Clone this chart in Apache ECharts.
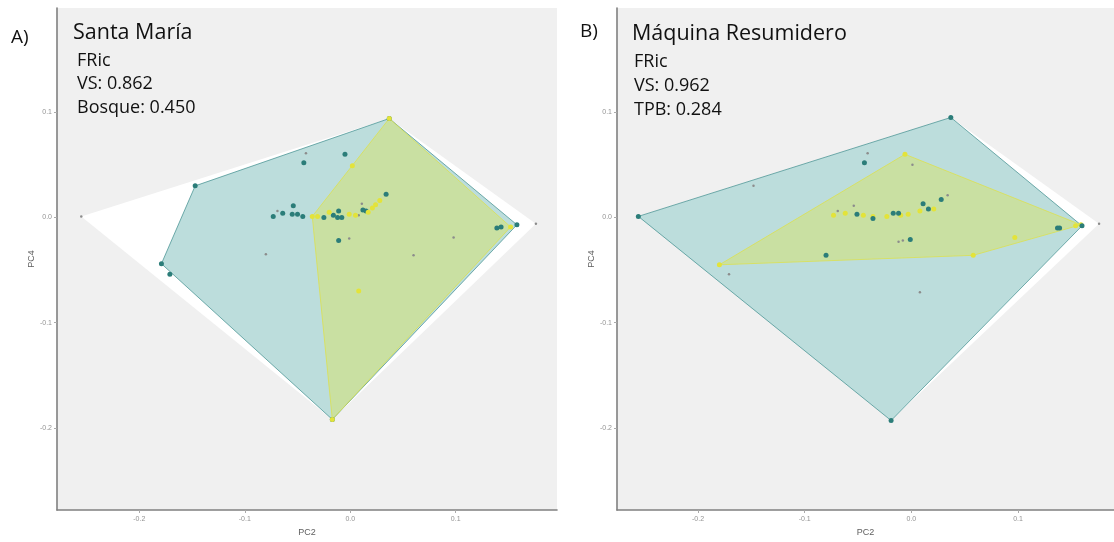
<!DOCTYPE html>
<html>
<head>
<meta charset="utf-8">
<script src="https://cdn.jsdelivr.net/npm/echarts@6/dist/echarts.min.js"></script>
<style>
html,body{margin:0;padding:0;background:#ffffff;}
#chart{width:1114px;height:542px;}
</style>
</head>
<body>
<div id="chart"></div>
<script>
// ---------- DATA ----------
const tickValues = [-0.2, -0.1, 0.0, 0.1];
const tickLabels = ['-0.2', '-0.1', '0.0', '0.1'];

// Panel A: Santa María
const aHullAll = [[-0.255, 0.001], [0.037, 0.094], [0.176, -0.006], [-0.017, -0.192]];
const aHullVS = [[-0.147, 0.030], [0.037, 0.094], [0.158, -0.007], [-0.017, -0.192], [-0.179, -0.044]];
const aHullBosque = [[-0.036, 0.001], [0.037, 0.094], [0.152, -0.009], [-0.017, -0.192]];
const aPointsVS = [
  [-0.147, 0.030], [-0.044, 0.052], [-0.005, 0.060], [-0.054, 0.011], [-0.073, 0.001],
  [-0.064, 0.004], [-0.055, 0.003], [-0.050, 0.003], [-0.045, 0.001], [-0.025, 0.000],
  [-0.016, 0.002], [-0.011, 0.006], [-0.012, 0.000], [-0.008, 0.000], [0.012, 0.007],
  [0.015, 0.006], [0.034, 0.022], [-0.011, -0.022], [-0.179, -0.044], [-0.171, -0.054],
  [0.139, -0.010], [0.143, -0.009], [0.158, -0.007], [-0.017, -0.192], [0.037, 0.094]
];
const aPointsBosque = [
  [0.037, 0.094], [0.002, 0.049], [0.028, 0.016], [0.024, 0.012], [0.021, 0.009],
  [-0.036, 0.001], [-0.031, 0.001], [-0.020, 0.005], [-0.001, 0.003], [0.005, 0.002],
  [0.008, -0.070], [0.152, -0.009], [-0.017, -0.192], [0.017, 0.005]
];
const aPointsOther = [
  [-0.255, 0.001], [-0.042, 0.061], [-0.069, 0.006], [-0.080, -0.035], [0.011, 0.013],
  [0.008, 0.002], [-0.001, -0.020], [0.098, -0.019], [0.060, -0.036], [0.176, -0.006]
];

// Panel B: Máquina Resumidero
const bHullAll = [[-0.256, 0.001], [0.037, 0.095], [0.176, -0.006], [-0.019, -0.193]];
const bHullVS = [[-0.256, 0.001], [0.037, 0.095], [0.160, -0.008], [-0.019, -0.193]];
const bHullTPB = [[-0.180, -0.045], [-0.006, 0.060], [0.159, -0.007], [0.058, -0.036]];
const bPointsVS = [
  [-0.256, 0.001], [0.037, 0.095], [-0.044, 0.052], [0.011, 0.013], [0.028, 0.017],
  [0.016, 0.008], [-0.051, 0.003], [-0.036, -0.001], [-0.017, 0.004], [-0.012, 0.004],
  [-0.001, -0.021], [-0.080, -0.036], [0.137, -0.010], [0.139, -0.010], [0.160, -0.008],
  [-0.019, -0.193]
];
const bPointsTPB = [
  [-0.180, -0.045], [-0.006, 0.060], [-0.073, 0.002], [-0.062, 0.004], [-0.045, 0.002],
  [-0.036, 0.001], [-0.023, 0.001], [-0.010, 0.002], [-0.003, 0.003], [0.008, 0.006],
  [0.021, 0.008], [0.097, -0.019], [0.058, -0.036], [0.154, -0.008], [0.159, -0.007]
];
const bPointsOther = [
  [-0.148, 0.030], [-0.171, -0.054], [-0.069, 0.006], [-0.041, 0.061], [0.001, 0.050],
  [0.034, 0.021], [-0.054, 0.011], [-0.012, -0.023], [-0.008, -0.022], [0.008, -0.071],
  [0.176, -0.006]
];

// ---------- STYLE ----------
const FONT = '"Open Sans", "Liberation Sans", sans-serif';
const axisLineColor = '#808080';
const tickLabelStyle = { fontSize: 7, color: '#939393', fontFamily: 'Liberation Sans' };

function xAxisCfg(gi, min, max) {
  return {
    type: 'value', gridIndex: gi, min: min, max: max,
    name: 'PC2', nameLocation: 'middle', nameGap: 18,
    nameTextStyle: { fontSize: 9, color: '#606060', fontFamily: 'Liberation Sans' },
    axisLine: { show: true, onZero: false, lineStyle: { color: axisLineColor, width: 1.6 } },
    axisTick: { show: true, length: 3, customValues: tickValues, lineStyle: { color: '#aaaaaa' } },
    axisLabel: Object.assign({ customValues: tickValues, margin: 6,
      formatter: v => tickLabels[tickValues.findIndex(t => Math.abs(t - v) < 1e-9)] }, tickLabelStyle),
    splitLine: { show: false }
  };
}
function yAxisCfg(gi, min, max) {
  return {
    type: 'value', gridIndex: gi, min: min, max: max,
    name: 'PC4', nameLocation: 'middle', nameGap: 17, nameRotate: 90,
    nameTextStyle: { fontSize: 9, color: '#606060', fontFamily: 'Liberation Sans' },
    axisLine: { show: true, onZero: false, lineStyle: { color: axisLineColor, width: 1.6 } },
    axisTick: { show: true, length: 3, customValues: tickValues, lineStyle: { color: '#aaaaaa' } },
    axisLabel: Object.assign({ customValues: tickValues, margin: 5,
      formatter: v => tickLabels[tickValues.findIndex(t => Math.abs(t - v) < 1e-9)] }, tickLabelStyle),
    splitLine: { show: false }
  };
}

function hullSeries(gi, hull, fill, stroke, z) {
  return {
    type: 'custom', xAxisIndex: gi, yAxisIndex: gi, z: z, silent: true,
    data: hull,
    renderItem: function (params, api) {
      if (params.dataIndex !== 0) return null;
      const pts = hull.map(p => api.coord(p));
      return {
        type: 'polygon',
        shape: { points: pts },
        style: { fill: fill, stroke: stroke, lineWidth: stroke ? 1 : 0 }
      };
    }
  };
}
function pointSeries(gi, data, color, size, z) {
  return {
    type: 'scatter', xAxisIndex: gi, yAxisIndex: gi, z: z, silent: true,
    data: data, symbolSize: size,
    itemStyle: { color: color, opacity: 1 }
  };
}

const chart = echarts.init(document.getElementById('chart'), null, { renderer: 'canvas' });

const textLines = (x, lines) => lines.map(l => ({
  type: 'text', left: x, top: l.y,
  style: { text: l.t, font: l.s + 'px ' + FONT, fill: '#111111' }
}));

chart.setOption({
  backgroundColor: '#ffffff',
  animation: false,
  grid: [
    { left: 57, top: 8, width: 500, height: 506, show: true, backgroundColor: '#f0f0f0', borderWidth: 0 },
    { left: 617, top: 8, width: 497, height: 506, show: true, backgroundColor: '#f0f0f0', borderWidth: 0 }
  ],
  xAxis: [xAxisCfg(0, -0.278, 0.196), xAxisCfg(1, -0.276, 0.19)],
  yAxis: [yAxisCfg(0, -0.278, 0.199), yAxisCfg(1, -0.278, 0.199)],
  series: [
    hullSeries(0, aHullAll, '#ffffff', null, 1),
    hullSeries(0, aHullVS, 'rgba(33,144,140,0.30)', 'rgba(60,140,140,0.7)', 2),
    hullSeries(0, aHullBosque, 'rgba(230,230,40,0.32)', 'rgba(220,225,80,0.8)', 3),
    pointSeries(0, aPointsOther, '#8c8c8c', 2.5, 4),
    pointSeries(0, aPointsVS, '#2b7d79', 5, 5),
    pointSeries(0, aPointsBosque, '#e3e33a', 5, 6),

    hullSeries(1, bHullAll, '#ffffff', null, 1),
    hullSeries(1, bHullVS, 'rgba(33,144,140,0.30)', 'rgba(60,140,140,0.7)', 2),
    hullSeries(1, bHullTPB, 'rgba(230,230,40,0.32)', 'rgba(220,225,80,0.8)', 3),
    pointSeries(1, bPointsOther, '#8c8c8c', 2.5, 4),
    pointSeries(1, bPointsTPB, '#e3e33a', 5, 5),
    pointSeries(1, bPointsVS, '#2b7d79', 5, 6)
  ],
  graphic: [].concat(
    textLines(11, [{ t: 'A)', s: 19, y: 28 }]),
    textLines(73, [{ t: 'Santa María', s: 21.5, y: 22 }]),
    textLines(77, [
      { t: 'FRic', s: 18, y: 52 },
      { t: 'VS: 0.862', s: 18, y: 75 },
      { t: 'Bosque: 0.450', s: 18, y: 99 }
    ]),
    textLines(580, [{ t: 'B)', s: 19, y: 22 }]),
    textLines(632, [{ t: 'Máquina Resumidero', s: 21.5, y: 23 }]),
    textLines(634, [
      { t: 'FRic', s: 18, y: 53 },
      { t: 'VS: 0.962', s: 18, y: 77 },
      { t: 'TPB: 0.284', s: 18, y: 101 }
    ])
  )
});
</script>
</body>
</html>
